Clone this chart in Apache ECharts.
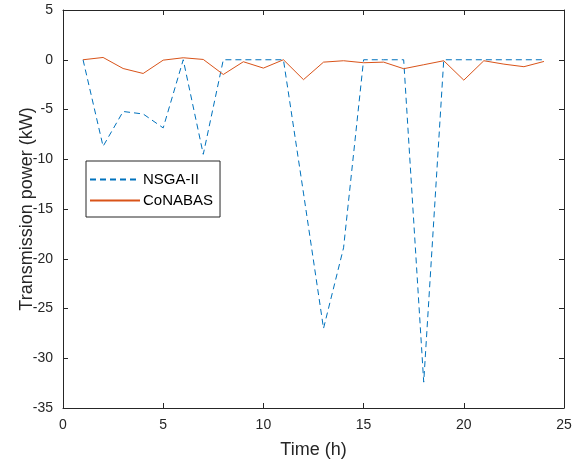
<!DOCTYPE html>
<html>
<head>
<meta charset="utf-8">
<script src="https://cdn.jsdelivr.net/npm/echarts@6/dist/echarts.min.js"></script>
<style>html,body{margin:0;padding:0;background:#fff}#c{width:576px;height:464px}</style>
</head>
<body>
<div id="c"></div>
<script>
const hours = [1,2,3,4,5,6,7,8,9,10,11,12,13,14,15,16,17,18,19,20,21,22,23,24];
const nsga = [0,-8.7,-5.2,-5.45,-6.85,0,-9.5,0,0,0,0,-13.4,-27.0,-18.9,0,0,0,-32.4,0,0,0,0,0,0];
const conabas = [0,0.23,-0.88,-1.38,-0.04,0.2,0.03,-1.48,-0.2,-0.84,0,-2.0,-0.24,-0.1,-0.3,-0.24,-0.9,-0.5,-0.1,-2.05,-0.1,-0.44,-0.7,-0.17];
const xTicks = [0,5,10,15,20,25];
const yTicks = [5,0,-5,-10,-15,-20,-25,-30,-35];

const axisCol = '#262626';
const font = 'Liberation Sans, Arial, sans-serif';
const chart = echarts.init(document.getElementById('c'), null, {renderer:'canvas'});
const common = {
  axisLine:{show:true,onZero:false,lineStyle:{color:axisCol,width:1}},
  axisTick:{show:true,inside:true,length:5,lineStyle:{color:axisCol}},
  splitLine:{show:false}
};
chart.setOption({
  animation:false,
  backgroundColor:'#fff',
  grid:{left:63,right:12,top:10,bottom:56,containLabel:false},
  xAxis:[
    Object.assign({type:'value',min:xTicks[0],max:xTicks[xTicks.length-1],interval:5,position:'bottom',
      name:'Time (h)',nameLocation:'middle',nameGap:33,nameMoveOverlap:false,
      nameTextStyle:{fontFamily:font,fontSize:18,color:axisCol},
      axisLabel:{fontFamily:font,fontSize:14,color:axisCol,margin:10}},common),
    Object.assign({type:'value',min:xTicks[0],max:xTicks[xTicks.length-1],interval:5,position:'top',
      axisLabel:{show:false}},common)
  ],
  yAxis:[
    Object.assign({type:'value',min:yTicks[yTicks.length-1],max:yTicks[0],interval:5,position:'left',
      name:'Transmission power (kW)',nameLocation:'middle',nameGap:27,nameMoveOverlap:false,
      nameTextStyle:{fontFamily:font,fontSize:18,color:axisCol},
      axisLabel:{fontFamily:font,fontSize:14,color:axisCol,margin:10}},common),
    Object.assign({type:'value',min:yTicks[yTicks.length-1],max:yTicks[0],interval:5,position:'right',
      axisLabel:{show:false}},common)
  ],
  legend:{
    orient:'vertical',left:86,top:161,
    backgroundColor:'#fff',borderColor:axisCol,borderWidth:1,borderRadius:0,
    padding:[11,7,9,3],itemGap:6,itemWidth:50,itemHeight:14,
    itemStyle:{opacity:0},
    textStyle:{fontFamily:font,fontSize:15,color:'#000',padding:[0,0,0,-2]},
    data:['NSGA-II','CoNABAS']
  },
  series:[
    {name:'NSGA-II',type:'line',symbol:'none',
      data:hours.map((h,i)=>[h,nsga[i]]),
      lineStyle:{color:'#0072BD',width:1,type:[6,4]},itemStyle:{color:'#0072BD'}},
    {name:'CoNABAS',type:'line',symbol:'none',
      data:hours.map((h,i)=>[h,conabas[i]]),
      lineStyle:{color:'#D95319',width:1},itemStyle:{color:'#D95319'}}
  ]
});
</script>
</body>
</html>
